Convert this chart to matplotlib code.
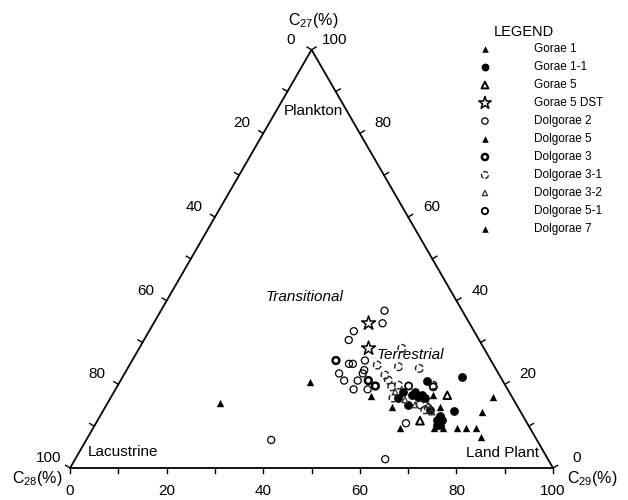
import numpy as np
import matplotlib
matplotlib.use("Agg")
import matplotlib.pyplot as plt

# Fonts

plt.rcParams['font.family'] = ['Liberation Sans', 'DejaVu Sans']
plt.rcParams['mathtext.fontset'] = 'custom'
plt.rcParams['mathtext.rm'] = 'Liberation Sans'
plt.rcParams['mathtext.it'] = 'Liberation Sans:italic'

# Data (C27, C28, C29 in %)

gorae1_c27 = [16.9, 13.3, 9.6, 9.6, 9.6, 7.5]
gorae1_c28 = [3.9, 8.0, 15.1, 13.3, 11.2, 11.2]
gorae1_c29 = [79.2, 78.7, 75.3, 77.1, 79.2, 81.3]

gorae1_1_c27 = [21.7, 20.9, 16.7, 13.7, 13.9, 11.5, 12.4, 17.4, 17.0, 16.7, 15.1, 10.3,
                18.2, 18.2, 17.5, 10.3, 11.5]
gorae1_1_c28 = [8.0, 15.7, 23.7, 13.7, 18.5, 18.3, 17.2, 20.6, 19.4, 18.2, 22.4, 18.2,
                22.0, 19.5, 18.4, 18.9, 17.2]
gorae1_1_c29 = [70.3, 63.4, 59.6, 72.6, 67.6, 70.2, 70.4, 62.0, 63.6, 65.1, 62.5, 71.5,
                59.8, 62.3, 64.1, 70.8, 71.3]

gorae5_c27 = [17.4, 11.3]
gorae5_c28 = [13.2, 21.9]
gorae5_c29 = [69.4, 66.8]

gorae5_dst_c27 = [34.6, 28.6]
gorae5_dst_c28 = [20.9, 23.9]
gorae5_dst_c29 = [44.5, 47.5]

dolgorae2_c27 = [37.6, 34.6, 32.7, 30.6, 24.9, 24.9, 25.7, 23.4, 22.6, 22.6, 20.9, 20.9, 18.8, 18.8, 10.7, 6.7, 2.1]
dolgorae2_c28 = [16.1, 18.0, 24.9, 27.0, 29.8, 29.0, 26.1, 27.4, 33.0, 28.1, 32.8, 30.0, 31.9, 29.0, 25.1, 55.0, 33.7]
dolgorae2_c29 = [46.3, 47.4, 42.4, 42.4, 45.3, 46.1, 48.2, 49.2, 44.4, 49.3, 46.3, 49.1, 49.3, 52.2, 64.2, 38.3, 64.2]

dolgorae5_c27 = [17.3, 14.5, 17.4, 14.5, 9.5, 9.5, 9.5]
dolgorae5_c28 = [29.1, 26.0, 16.1, 16.2, 26.9, 20.0, 18.0]
dolgorae5_c29 = [53.6, 59.5, 66.5, 69.3, 63.6, 70.5, 72.5]

dolgorae3_c27 = [25.7, 19.6, 20.9]
dolgorae3_c28 = [32.1, 27.0, 27.8]
dolgorae3_c29 = [42.2, 53.4, 51.3]

dolgorae3_1_c27 = [28.6, 24.6, 24.2, 23.8, 21.0, 19.4, 19.8, 19.8, 14.3, 22.2, 16.7, 15.1, 13.9]
dolgorae3_1_c28 = [17.0, 24.1, 19.9, 15.8, 23.6, 23.7, 22.1, 14.9, 18.7, 23.7, 24.8, 20.0, 19.6]
dolgorae3_1_c29 = [54.4, 51.3, 55.9, 60.4, 55.4, 56.9, 58.1, 65.3, 67.0, 54.1, 58.5, 64.9, 66.5]

dolgorae3_2_c27 = [18.2, 16.3, 15.1, 15.1, 13.4]
dolgorae3_2_c28 = [23.6, 22.5, 21.0, 18.3, 18.4]
dolgorae3_2_c29 = [58.2, 61.2, 63.9, 66.6, 68.2]

dolgorae5_1_c27 = [19.6, 19.4]
dolgorae5_1_c28 = [20.1, 15.1]
dolgorae5_1_c29 = [60.3, 65.5]

dolgorae7_c27 = [20.6, 15.5]
dolgorae7_c28 = [40.0, 61.2]
dolgorae7_c29 = [39.4, 23.3]

tick_values = [0, 20, 40, 60, 80, 100]

# Ternary -> cartesian

SQ3 = np.sqrt(3) / 2


def tern(c27, c28, c29):
    c27 = np.asarray(c27, float)
    c28 = np.asarray(c28, float)
    c29 = np.asarray(c29, float)
    s = c27 + c28 + c29
    a = 100 * c27 / s
    c = 100 * c29 / s
    return c + a / 2, a * SQ3


# Figure

fig = plt.figure(figsize=(6.28, 5.0), dpi=100)
ax = fig.add_axes([0, 0, 1, 1])
ax.set_xlim(-14.49, 115.5)
ax.set_ylim(-6.63, 96.9)
ax.set_aspect('equal')
ax.axis('off')

# Triangle frame
ax.plot([0, 100, 50, 0], [0, 0, 100 * SQ3, 0], color='black', lw=1.3,
        solid_joinstyle='miter', zorder=3)

# Ticks every 10
tl = 1.1
for v in range(0, 101, 10):
    # bottom edge (C29)
    ax.plot([v, v], [0, -tl], color='black', lw=1.0)
    # left edge (C28): C28 = v, C29 = 0
    x, y = tern(100 - v, v, 0)
    ax.plot([x, x - tl * 0.85], [y, y + tl * 0.5], color='black', lw=1.0)
    # right edge (C27): C27 = v, C28 = 0
    x, y = tern(v, 0, 100 - v)
    ax.plot([x, x + tl * 0.85], [y, y + tl * 0.5], color='black', lw=1.0)

fs = 11
for v in tick_values:
    ax.text(v, -4.8, str(v), ha='center', va='center', fontsize=fs)
    x, y = tern(100 - v, v, 0)
    ax.text(x - 4.4, y + 2.1, str(v), ha='center', va='center', fontsize=fs)
    x, y = tern(v, 0, 100 - v)
    ax.text(x + 4.8, y + 2.1, str(v), ha='center', va='center', fontsize=fs)

# Axis titles
ax.text(50.3, 92.75, r'C$_{\mathrm{27}}$(%)', ha='center', va='center', fontsize=11.5)
ax.text(-6.8, -2.2, r'C$_{\mathrm{28}}$(%)', ha='center', va='center', fontsize=11.5)
ax.text(108.2, -2.2, r'C$_{\mathrm{29}}$(%)', ha='center', va='center', fontsize=11.5)

# Region labels
ax.text(50.3, 73.9, 'Plankton', ha='center', va='center', fontsize=fs)
ax.text(48.6, 35.4, 'Transitional', ha='center', va='center', fontsize=fs, style='italic')
ax.text(70.4, 23.4, 'Terrestrial', ha='center', va='center', fontsize=fs, style='italic')
ax.text(11.0, 3.3, 'Lacustrine', ha='center', va='center', fontsize=fs)
ax.text(89.6, 3.1, 'Land Plant', ha='center', va='center', fontsize=fs)

# Series

series = [
    ('Gorae 1', gorae1_c27, gorae1_c28, gorae1_c29,
     dict(marker='^', s=28, c='black', linewidths=0)),
    ('Gorae 1-1', gorae1_1_c27, gorae1_1_c28, gorae1_1_c29,
     dict(marker='o', s=40, c='black', linewidths=0)),
    ('Gorae 5', gorae5_c27, gorae5_c28, gorae5_c29,
     dict(marker='^', s=30, facecolors='none', edgecolors='black', linewidths=1.4)),
    ('Gorae 5 DST', gorae5_dst_c27, gorae5_dst_c28, gorae5_dst_c29,
     dict(marker='*', s=110, facecolors='none', edgecolors='black', linewidths=1.1)),
    ('Dolgorae 2', dolgorae2_c27, dolgorae2_c28, dolgorae2_c29,
     dict(marker='o', s=26, facecolors='none', edgecolors='black', linewidths=0.9)),
    ('Dolgorae 5', dolgorae5_c27, dolgorae5_c28, dolgorae5_c29,
     dict(marker='^', s=28, c='black', linewidths=0)),
    ('Dolgorae 3', dolgorae3_c27, dolgorae3_c28, dolgorae3_c29,
     dict(marker='o', s=24, facecolors='none', edgecolors='black', linewidths=1.8)),
    ('Dolgorae 3-1', dolgorae3_1_c27, dolgorae3_1_c28, dolgorae3_1_c29,
     dict(marker='o', s=30, facecolors='none', edgecolors='#222222', linewidths=1.0,
          linestyles='--')),
    ('Dolgorae 3-2', dolgorae3_2_c27, dolgorae3_2_c28, dolgorae3_2_c29,
     dict(marker='^', s=18, facecolors='none', edgecolors='#333333', linewidths=0.9)),
    ('Dolgorae 5-1', dolgorae5_1_c27, dolgorae5_1_c28, dolgorae5_1_c29,
     dict(marker='o', s=26, facecolors='none', edgecolors='black', linewidths=1.3)),
    ('Dolgorae 7', dolgorae7_c27, dolgorae7_c28, dolgorae7_c29,
     dict(marker='^', s=28, c='black', linewidths=0)),
]

for name, a, b, c, style in series:
    x, y = tern(a, b, c)
    ax.scatter(x, y, zorder=4, **style)

# Legend (drawn by hand to match the original layout)

ax.text(94.0, 90.3, 'LEGEND', ha='center', va='center', fontsize=10.5)
for i, (name, a, b, c, style) in enumerate(series):
    py = 49 + 18 * i
    ly = (468 - py) / 4.83
    st = dict(style)
    st['s'] = style['s'] * 0.8
    ax.scatter([85.9], [ly], zorder=4, **st)
    ax.text(96.1, ly, name, ha='left', va='center', fontsize=8.5)

fig.savefig('out.png', dpi=100)
